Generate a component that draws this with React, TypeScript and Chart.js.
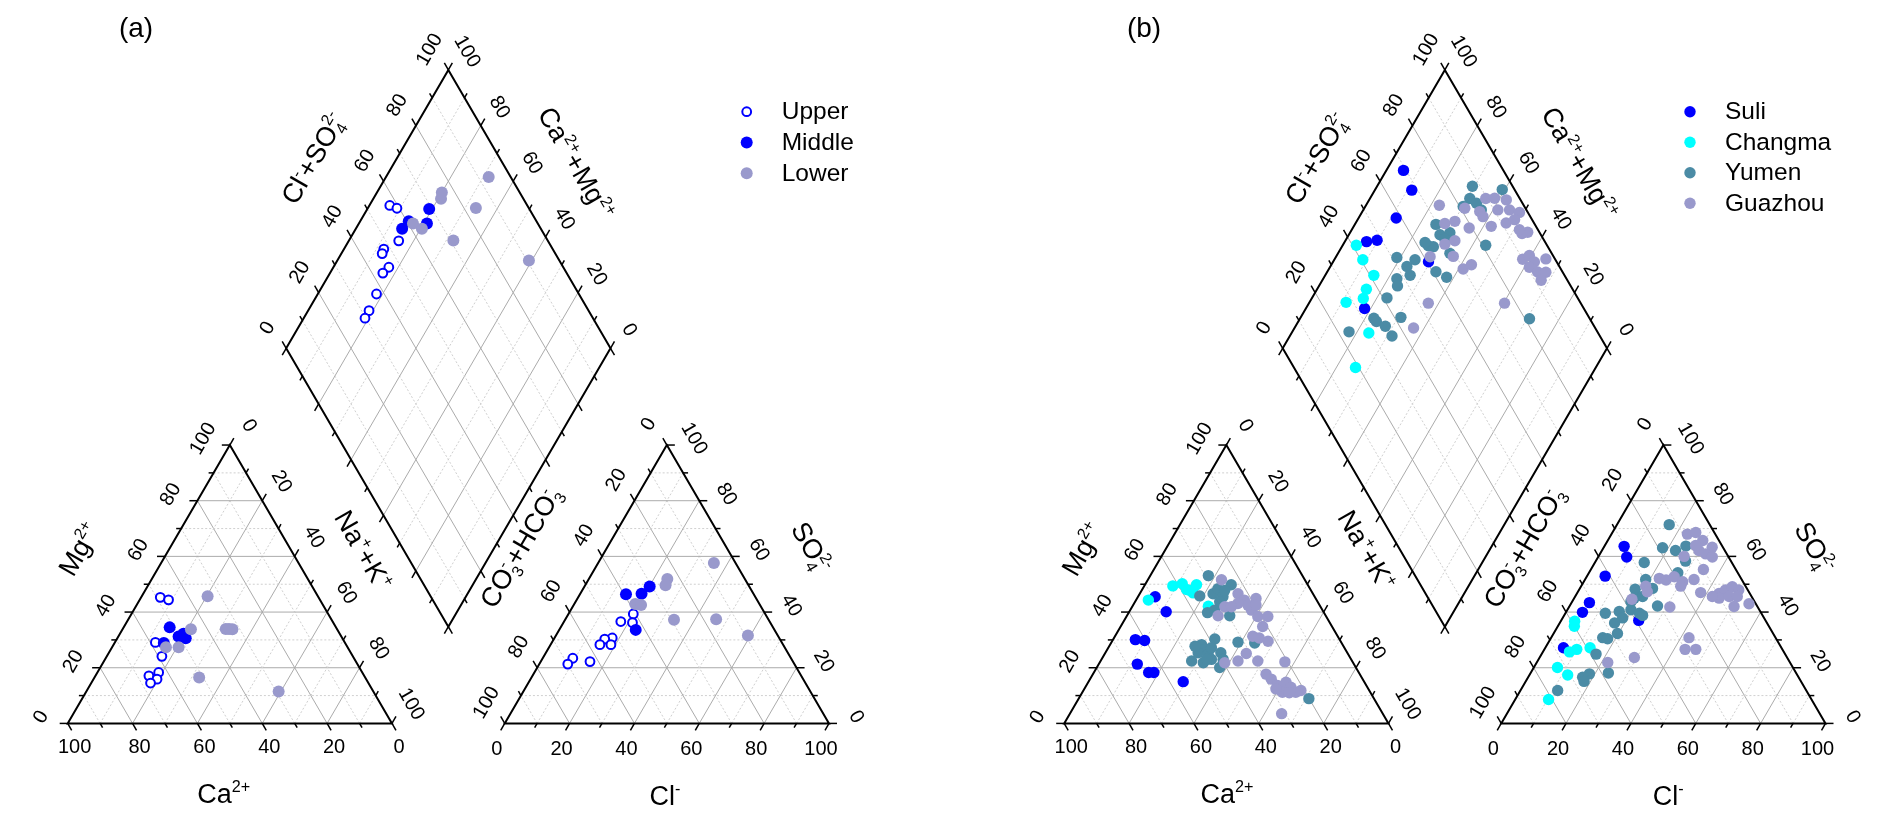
import React, { useEffect, useRef } from 'react';
import { Chart, registerables } from 'chart.js';

Chart.register(...registerables);

const CANVAS_W = 1892;
const CANVAS_H = 826;
const FONT = "'Liberation Sans', Arial, Helvetica, sans-serif";

// ---- layout of the Piper diagrams (pixels) ----
const SIDE = 326.5;
const GAP = 113.5;
const BASE_Y = 728.3;
const PANEL_X = [61.7, 1065];
const SQ3 = Math.sqrt(3) / 2;
const TRI_H = SIDE * SQ3;

// ---- tick labels ----
const tickValues = [0, 20, 40, 60, 80, 100];

// ---- data: panel (a) ----
// cation triangle: [Ca2+, Mg2+] (%), Na+ + K+ = remainder
const upperCation = [[48.8, 45.3], [46.7, 44.4], [58.4, 29.1], [58.9, 24.1], [62.8, 18.3], [66.4, 17.1], [64.5, 15.9], [67.2, 14.5]];
const middleCation = [[51.3, 34.5], [55.9, 28.9], [50.2, 31.2], [48.2, 32.2], [48.3, 30.6]];
const lowerCation = [[34.0, 45.7], [45.1, 33.8], [56.0, 27.4], [52.1, 27.4], [34.3, 33.9], [32.3, 33.8], [33.3, 33.9], [51.2, 16.5], [29.2, 11.5]];
// anion triangle: [Cl-, SO4 2-] (%)
const upperAnion = [[20.0, 39.3], [17.5, 36.6], [21.3, 36.2], [17.8, 30.7], [15.7, 30.3], [15.2, 28.3], [18.6, 28.3], [9.3, 23.4], [8.8, 21.3], [15.2, 22.2]];
const middleAnion = [[14.2, 46.4], [18.9, 46.6], [20.1, 49.2], [23.6, 33.6]];
const lowerAnion = [[18.8, 42.9], [20.8, 42.5], [24.2, 51.9], [24.8, 49.6], [35.7, 57.6], [33.6, 37.2], [46.5, 37.4], [59.2, 31.6]];
// diamond: [Cl- + SO4 2-, Ca2+ + Mg2+] (%)
const upperDiamond = [[57.6, 93.7], [59.3, 91.0], [54.0, 84.6], [47.9, 87.7], [46.6, 87.4], [46.2, 82.9], [43.3, 83.7], [37.6, 81.9], [32.3, 81.2], [29.7, 81.1]];
const middleDiamond = [[69.1, 80.9], [60.6, 85.0], [57.2, 85.7], [65.8, 79.0]];
const lowerDiamond = [[93.2, 68.3], [76.0, 80.0], [74.6, 79.1], [83.7, 66.7], [61.5, 83.3], [63.3, 79.6], [70.9, 67.8], [90.6, 40.9]];

// ---- data: panel (b) ----
const suliCation = [[49.2, 45.5], [48.5, 40.1], [63.0, 30.1], [60.3, 29.8], [66.8, 21.3], [64.8, 18.3], [63.2, 18.3], [55.8, 15.0]];
const changmaCation = [[41.8, 49.4], [38.5, 50.2], [37.3, 47.8], [34.3, 49.8], [38.2, 48.1], [51.9, 44.3], [34.5, 42.1], [36.8, 46.9]];
const yumenCation = [[29.0, 53.1], [35.3, 45.8], [30.8, 46.6], [28.4, 48.4], [28.3, 45.5], [23.6, 49.8], [30.2, 43.7], [35.9, 39.8], [29.6, 38.7], [33.2, 40.7], [38.4, 30.3], [43.5, 28.3], [43.3, 26.6], [46.0, 25.4], [43.2, 24.8], [49.5, 22.4], [46.2, 21.8], [43.1, 23.0], [39.0, 25.4], [39.5, 23.0], [42.0, 20.1], [31.8, 29.2], [26.8, 28.9], [20.1, 8.9], [41.0, 27.2], [44.6, 23.0], [45.8, 27.7], [26.6, 47.8]];
const guazhouCation = [[25.7, 51.6], [23.1, 46.6], [29.5, 41.9], [33.2, 38.7], [22.3, 44.3], [18.4, 44.9], [21.9, 40.7], [21.1, 38.4], [21.4, 34.8], [18.0, 38.4], [22.1, 42.5], [24.9, 43.1], [27.5, 41.9], [26.2, 31.3], [24.5, 30.7], [22.4, 29.5], [31.3, 25.1], [35.2, 22.4], [39.6, 21.8], [29.1, 22.4], [20.9, 22.1], [28.9, 17.7], [28.2, 15.9], [27.4, 13.6], [27.3, 11.8], [24.2, 14.8], [23.6, 13.0], [23.0, 11.2], [21.1, 11.8], [27.1, 11.2], [25.1, 11.0], [31.2, 3.5], [28.5, 12.4], [19.6, 42.5]];
const suliAnion = [[6.1, 63.6], [8.8, 59.8], [5.6, 52.9], [5.5, 43.4], [5.1, 39.9], [23.9, 37.0], [5.6, 27.2]];
const changmaAnion = [[4.3, 36.7], [5.1, 34.9], [8.2, 25.7], [10.0, 26.6], [13.8, 27.2], [7.3, 20.1], [11.8, 17.4], [10.3, 8.6]];
const yumenAnion = [[16.1, 71.4], [18.2, 63.1], [22.7, 62.1], [25.1, 63.7], [27.7, 58.3], [27.4, 54.1], [15.2, 57.8], [18.7, 51.7], [17.2, 48.2], [18.5, 45.0], [22.4, 48.5], [27.1, 42.2], [19.6, 40.8], [22.8, 39.6], [24.2, 38.8], [16.3, 40.2], [18.5, 37.9], [12.3, 39.6], [16.9, 36.1], [19.7, 32.3], [15.9, 30.8], [17.6, 30.4], [16.8, 24.9], [24.0, 18.1], [18.3, 17.8], [16.8, 16.6], [18.0, 15.1], [11.5, 11.8], [18.1, 43.8], [20.8, 45.6]];
const guazhouAnion = [[23.4, 68.0], [25.7, 68.6], [29.3, 65.7], [33.4, 63.3], [29.9, 62.1], [32.6, 60.9], [35.2, 59.8], [26.4, 60.0], [28.0, 63.9], [34.7, 55.3], [22.7, 52.1], [25.1, 51.5], [27.0, 52.7], [30.5, 50.9], [30.7, 49.3], [33.6, 51.7], [19.9, 49.3], [21.4, 47.3], [18.0, 44.6], [38.0, 47.0], [31.1, 41.8], [43.8, 46.7], [45.2, 47.9], [46.7, 49.1], [49.3, 47.9], [44.7, 45.0], [47.5, 45.6], [50.0, 45.6], [50.8, 42.0], [54.9, 43.0], [42.5, 30.8], [43.4, 26.6], [46.7, 26.6], [29.2, 23.7], [21.9, 21.9], [42.3, 45.6]];
const suliDiamond = [[69.2, 94.7], [68.2, 88.6], [58.4, 88.4], [45.0, 93.3], [48.5, 90.3], [60.5, 70.6], [32.4, 81.9]];
const changmaDiamond = [[41.2, 95.8], [40.6, 91.2], [41.2, 85.0], [36.4, 84.8], [33.8, 84.1], [27.8, 88.7], [29.3, 76.2], [19.0, 74.1]];
const yumenDiamond = [[87.6, 70.6], [96.2, 60.8], [84.6, 69.2], [85.8, 66.3], [86.1, 63.6], [81.1, 69.8], [69.5, 75.0], [68.9, 71.9], [72.3, 69.2], [69.6, 69.6], [63.3, 73.5], [64.7, 71.8], [68.6, 65.5], [81.1, 55.9], [51.5, 81.1], [56.7, 75.1], [53.0, 76.4], [52.4, 73.8], [47.7, 77.3], [46.6, 75.8], [61.0, 66.5], [63.3, 62.2], [41.2, 76.9], [33.5, 77.3], [33.7, 75.9], [35.6, 72.3], [35.9, 68.5], [42.0, 69.1], [23.4, 82.5], [81.4, 29.2], [62.9, 75.1]];
const guazhouDiamond = [[74.0, 77.4], [72.4, 72.4], [75.9, 69.7], [81.3, 69.0], [85.3, 63.8], [89.5, 64.3], [92.3, 61.6], [95.6, 57.7], [91.2, 58.5], [94.8, 54.9], [97.4, 51.4], [91.4, 53.6], [94.6, 51.6], [86.2, 57.6], [79.1, 64.1], [68.7, 68.7], [72.4, 66.2], [61.9, 71.0], [69.1, 63.9], [69.9, 58.6], [73.2, 56.8], [94.4, 46.8], [96.4, 45.3], [90.0, 42.0], [92.7, 40.6], [93.1, 37.9], [97.2, 34.9], [90.6, 38.5], [92.3, 35.1], [94.8, 32.5], [91.9, 32.5], [53.0, 63.2], [76.5, 39.7], [44.0, 63.3], [85.4, 61.9], [94.3, 48.3]];

// ---- ternary transforms (data % -> plot units) ----
function cationXY(px: number, ca: number, mg: number) {
  const na = 100 - ca - mg;
  return { x: px + (SIDE * (na + mg / 2)) / 100, y: BASE_Y - (TRI_H * mg) / 100 };
}
function anionXY(px: number, cl: number, so4: number) {
  return { x: px + SIDE + GAP + (SIDE * (cl + so4 / 2)) / 100, y: BASE_Y - (TRI_H * so4) / 100 };
}
function diamondXY(px: number, a: number, c: number) {
  const bx = px + SIDE + GAP / 2;
  const by = BASE_Y - GAP * SQ3;
  return { x: bx + ((SIDE / 2) * (a - c)) / 100, y: by - (TRI_H * (a + c)) / 100 };
}

function series(panel: number, cat: number[][], an: number[][], dia: number[][]) {
  const px = PANEL_X[panel];
  return [
    ...cat.map((p) => cationXY(px, p[0], p[1])),
    ...an.map((p) => anionXY(px, p[0], p[1])),
    ...dia.map((p) => diamondXY(px, p[0], p[1])),
  ];
}

type Part = [string, string, string]; // base, subscript, superscript
const D60 = Math.PI / 3;
const SCRIPT = 0.6;

function richWidth(ctx: CanvasRenderingContext2D, parts: Part[], size: number) {
  let w = 0;
  for (const [b, sub, sup] of parts) {
    ctx.font = `${size}px ${FONT}`;
    w += ctx.measureText(b).width;
    ctx.font = `${size * SCRIPT}px ${FONT}`;
    w += Math.max(sub ? ctx.measureText(sub).width : 0, sup ? ctx.measureText(sup).width : 0);
  }
  return w;
}

function drawRich(ctx: CanvasRenderingContext2D, parts: Part[], cx: number, cy: number, angle: number, size: number) {
  ctx.save();
  ctx.translate(cx, cy);
  ctx.rotate(angle);
  ctx.fillStyle = '#000';
  ctx.textAlign = 'left';
  ctx.textBaseline = 'alphabetic';
  const w = richWidth(ctx, parts, size);
  let x = -w / 2;
  const y0 = size * 0.36;
  for (const [b, sub, sup] of parts) {
    ctx.font = `${size}px ${FONT}`;
    ctx.fillText(b, x, y0);
    x += ctx.measureText(b).width;
    ctx.font = `${size * SCRIPT}px ${FONT}`;
    let ww = 0;
    if (sup) { ctx.fillText(sup, x, y0 - size * 0.4); ww = Math.max(ww, ctx.measureText(sup).width); }
    if (sub) { ctx.fillText(sub, x, y0 + size * 0.22); ww = Math.max(ww, ctx.measureText(sub).width); }
    x += ww;
  }
  ctx.restore();
}

const piperPlugin = {
  id: 'piperFrame',
  beforeDraw(chart: any) {
    const ctx = chart.ctx;
    ctx.save();
    ctx.fillStyle = '#ffffff';
    ctx.fillRect(0, 0, chart.width, chart.height);
    ctx.restore();
  },
  beforeDatasetsDraw(chart: any) {
    const ctx: CanvasRenderingContext2D = chart.ctx;
    const sx = chart.scales.x;
    const sy = chart.scales.y;
    const toPx = (p: { x: number; y: number }) => [sx.getPixelForValue(p.x), sy.getPixelForValue(p.y)];
    PANEL_X.forEach((px) => {
      const cat = (ca: number, mg: number) => toPx(cationXY(px, ca, mg));
      const an = (cl: number, so4: number) => toPx(anionXY(px, cl, so4));
      const dia = (a: number, c: number) => toPx(diamondXY(px, a, c));
      const line = (p: number[], q: number[]) => {
        ctx.beginPath();
        ctx.moveTo(p[0], p[1]);
        ctx.lineTo(q[0], q[1]);
        ctx.stroke();
      };
      ctx.save();
      // grid
      for (let k = 10; k < 100; k += 10) {
        const major = k % 20 === 0;
        ctx.strokeStyle = major ? '#ababab' : '#d0d0d0';
        ctx.lineWidth = 1;
        ctx.setLineDash(major ? [] : [2, 2]);
        line(cat(100 - k, k), cat(0, k));
        line(cat(k, 0), cat(k, 100 - k));
        line(cat(100 - k, 0), cat(0, 100 - k));
        line(an(0, k), an(100 - k, k));
        line(an(k, 0), an(k, 100 - k));
        line(an(100 - k, 0), an(0, 100 - k));
        line(dia(k, 0), dia(k, 100));
        line(dia(0, k), dia(100, k));
      }
      ctx.setLineDash([]);
      // edges
      ctx.strokeStyle = '#000';
      ctx.lineWidth = 2;
      ctx.lineJoin = 'miter';
      const poly = (pts: number[][]) => {
        ctx.beginPath();
        ctx.moveTo(pts[0][0], pts[0][1]);
        for (let i = 1; i < pts.length; i++) ctx.lineTo(pts[i][0], pts[i][1]);
        ctx.closePath();
        ctx.stroke();
      };
      poly([cat(100, 0), cat(0, 0), cat(0, 100)]);
      poly([an(0, 0), an(100, 0), an(0, 100)]);
      poly([dia(0, 0), dia(0, 100), dia(100, 100), dia(100, 0)]);
      // ticks
      const DR = [0.5, SQ3], DL = [-0.5, SQ3], UR = [0.5, -SQ3], UL = [-0.5, -SQ3], LF = [-1, 0], RT = [1, 0];
      ctx.lineWidth = 1.5;
      const tick = (p: number[], d: number[], len: number) => line(p, [p[0] + d[0] * len, p[1] + d[1] * len]);
      for (let k = 0; k <= 100; k += 10) {
        const len = k % 20 === 0 ? 8 : 5;
        tick(cat(k, 0), DR, len);
        tick(cat(100 - k, k), LF, len);
        tick(cat(0, 100 - k), UR, len);
        tick(an(k, 0), DL, len);
        tick(an(100 - k, k), RT, len);
        tick(an(0, 100 - k), UL, len);
        tick(dia(k, 100), UL, len);
        tick(dia(100, k), UR, len);
        tick(dia(0, k), DL, len);
        tick(dia(k, 0), DR, len);
      }
      // tick labels
      const lab = (p: number[], off: number[], ang: number, t: string) =>
        drawRich(ctx, [[t, '', '']], p[0] + off[0], p[1] + off[1], ang, 20);
      tickValues.forEach((k) => {
        const t = String(k);
        lab(cat(k, 0), [7, 22.5], 0, t);
        lab(cat(100 - k, k), [-28, -7], -D60, t);
        lab(cat(0, 100 - k), [20.5, -20], D60, t);
        lab(an(k, 0), [-8, 24], 0, t);
        lab(an(100 - k, k), [28.5, -7.3], D60, t);
        lab(an(0, 100 - k), [-19.5, -21.5], -D60, t);
        lab(dia(k, 100), [-20, -21], -D60, t);
        lab(dia(100, k), [20, -19], D60, t);
      });
      // axis titles
      const T = 27;
      drawRich(ctx, [['Ca', '', '2+']], px + 162, 793, 0, T);
      drawRich(ctx, [['Mg', '', '2+']], px + 17, 549, -D60, T);
      drawRich(ctx, [['Na', '', '+'], ['+K', '', '+']], px + 302, 550, D60, T);
      drawRich(ctx, [['Cl', '', '-']], px + 603.3, 795, 0, T);
      drawRich(ctx, [['SO', '4', '2-']], px + 750.3, 547, D60, T);
      drawRich(ctx, [['CO', '3', '-'], ['+HCO', '3', '-']], px + 458.3, 547, -D60, T);
      drawRich(ctx, [['Cl', '', '-'], ['+SO', '4', '2-']], px + 251, 158, -D60, T);
      drawRich(ctx, [['Ca', '', '2+'], ['+Mg', '', '2+']], px + 515, 163, D60, T);
      ctx.restore();
    });
  },
  afterDatasetsDraw(chart: any) {
    const ctx: CanvasRenderingContext2D = chart.ctx;
    ctx.save();
    // panel letters
    drawRich(ctx, [['(a)', '', '']], 136, 27, 0, 28);
    drawRich(ctx, [['(b)', '', '']], 1144, 27, 0, 28);
    // legends
    const legendPos = [
      { x: 746.7, y: 111.7, dy: 30.8 },
      { x: 1690, y: 111.7, dy: 30.5 },
    ];
    const counters = [0, 0];
    chart.data.datasets.forEach((ds: any) => {
      const lp = legendPos[ds.panel];
      const i = counters[ds.panel]++;
      const y = lp.y + i * lp.dy;
      ctx.beginPath();
      ctx.arc(lp.x, y, ds.legendRadius, 0, Math.PI * 2);
      ctx.fillStyle = ds.pointBackgroundColor;
      ctx.fill();
      if (ds.pointBorderWidth > 0) {
        ctx.lineWidth = ds.pointBorderWidth;
        ctx.strokeStyle = ds.pointBorderColor;
        ctx.stroke();
      }
      ctx.fillStyle = '#000';
      ctx.font = `24.5px ${FONT}`;
      ctx.textAlign = 'left';
      ctx.textBaseline = 'middle';
      ctx.fillText(ds.label, lp.x + 35, y + 1);
    });
    ctx.restore();
  },
};

const BLUE = '#0000ff';
const CYAN = '#00ffff';
const TEAL = 'rgb(75,139,165)';
const LAVENDER = 'rgb(153,153,204)';

export default function App() {
  const ref = useRef<HTMLCanvasElement | null>(null);
  useEffect(() => {
    if (!ref.current) return;
    const filled = (label: string, panel: number, color: string, data: any[], r: number, order: number) => ({
      label, panel, data, order,
      pointRadius: r, pointHoverRadius: r, legendRadius: r,
      pointBackgroundColor: color, pointBorderColor: color, pointBorderWidth: 0,
      showLine: false,
    });
    const datasets: any[] = [
      {
        label: 'Upper', panel: 0, order: 2,
        data: series(0, upperCation, upperAnion, upperDiamond),
        pointRadius: 4.4, pointHoverRadius: 4.4, legendRadius: 4.4,
        pointBackgroundColor: '#ffffff', pointBorderColor: BLUE, pointBorderWidth: 2,
        showLine: false,
      },
      filled('Middle', 0, BLUE, series(0, middleCation, middleAnion, middleDiamond), 6, 1),
      filled('Lower', 0, LAVENDER, series(0, lowerCation, lowerAnion, lowerDiamond), 6, 0),
      filled('Suli', 1, BLUE, series(1, suliCation, suliAnion, suliDiamond), 5.7, 3),
      filled('Changma', 1, CYAN, series(1, changmaCation, changmaAnion, changmaDiamond), 5.7, 2),
      filled('Yumen', 1, TEAL, series(1, yumenCation, yumenAnion, yumenDiamond), 5.7, 1),
      filled('Guazhou', 1, LAVENDER, series(1, guazhouCation, guazhouAnion, guazhouDiamond), 5.7, 0),
    ];
    const chart = new Chart(ref.current, {
      type: 'scatter',
      data: { datasets },
      options: {
        animation: false,
        responsive: false,
        devicePixelRatio: 1,
        events: [],
        layout: { padding: 0 },
        plugins: { legend: { display: false }, tooltip: { enabled: false } },
        scales: {
          x: { type: 'linear', min: 0, max: CANVAS_W, display: false },
          y: { type: 'linear', min: 0, max: CANVAS_H, reverse: true, display: false },
        },
      },
      plugins: [piperPlugin],
    } as any);
    return () => chart.destroy();
  }, []);
  return (
    <div style={{ position: 'fixed', left: 0, top: 0, width: CANVAS_W, height: CANVAS_H, background: '#fff' }}>
      <canvas ref={ref} width={CANVAS_W} height={CANVAS_H} style={{ display: 'block', width: CANVAS_W, height: CANVAS_H }} />
    </div>
  );
}
